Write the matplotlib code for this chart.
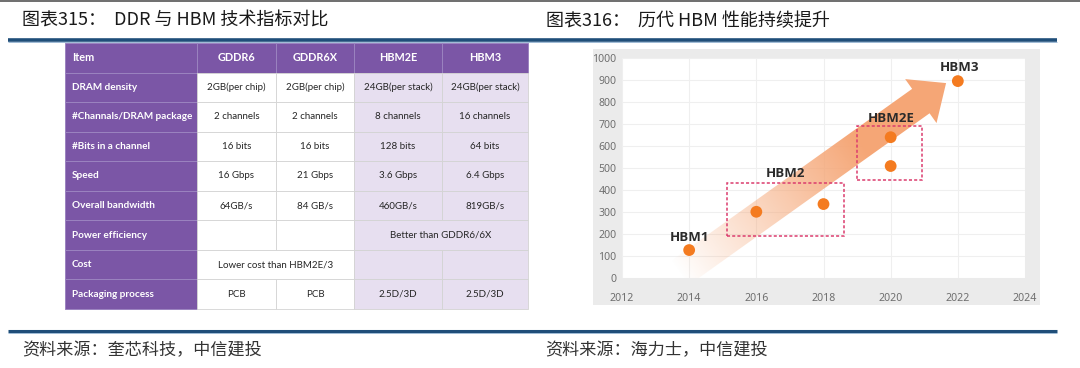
import numpy as np
import matplotlib
matplotlib.use("Agg")
import matplotlib.pyplot as plt
from matplotlib.patches import Rectangle, Polygon

plt.rcParams['font.family'] = ['Noto Sans CJK SC', 'DejaVu Sans']

# ---------------- data ----------------
left_title = "图表315：  DDR 与 HBM 技术指标对比"
right_title = "图表316：  历代 HBM 性能持续提升"
left_source = "资料来源：奎芯科技，中信建投"
right_source = "资料来源：海力士，中信建投"

table_columns = ["Item", "GDDR6", "GDDR6X", "HBM2E", "HBM3"]
row_labels = ["DRAM density", "#Channals/DRAM package", "#Bits in a channel", "Speed",
              "Overall bandwidth", "Power efficiency", "Cost", "Packaging process"]
gddr6 = ["2GB(per chip)", "2 channels", "16 bits", "16 Gbps", "64GB/s", "", "Lower cost than HBM2E/3", "PCB"]
gddr6x = ["2GB(per chip)", "2 channels", "16 bits", "21 Gbps", "84 GB/s", "", None, "PCB"]
hbm2e = ["24GB(per stack)", "8 channels", "128 bits", "3.6 Gbps", "460GB/s", "Better than GDDR6/6X", "", "2.5D/3D"]
hbm3 = ["24GB(per stack)", "16 channels", "64 bits", "6.4 Gbps", "819GB/s", None, "", "2.5D/3D"]

hbm_labels = ["HBM1", "HBM2", "", "HBM2E", "", "HBM3"]
hbm_years = [2014, 2016, 2018, 2020, 2020, 2022]
hbm_bandwidth = [127, 301, 336, 509, 640, 895]
label_pos = {"HBM1": (2014.0, 185), "HBM2": (2016.88, 473), "HBM2E": (2020.03, 726), "HBM3": (2022.04, 958)}
boxes = [(2015.13, 191, 2018.61, 432), (2019.0, 445, 2020.93, 691)]
x_ticks = [2012, 2014, 2016, 2018, 2020, 2022, 2024]
y_ticks = list(range(0, 1001, 100))

# ---------------- figure ----------------
W, H = 1080, 368
fig = plt.figure(figsize=(W / 100, H / 100), dpi=100)
bg = fig.add_axes([0, 0, 1, 1])
bg.set_xlim(0, W)
bg.set_ylim(H, 0)
bg.axis('off')

# top border line
bg.plot([0, W], [0.8, 0.8], color='#555555', lw=1.2)
# titles
bg.text(22, 21, left_title, fontsize=13, color='#1a1a1a', va='center', ha='left')
bg.text(546, 21, right_title, fontsize=13, color='#1a1a1a', va='center', ha='left')
# blue rule under titles
bg.plot([8, 1057], [40, 40], color='#1F4E79', lw=2.6, solid_capstyle='butt')
bg.plot([8, 1057], [41.8, 41.8], color='#8FB0CF', lw=0.6, solid_capstyle='butt')
# bottom rule
bg.plot([8, 1057], [331, 331], color='#1F4E79', lw=2.2, solid_capstyle='butt')
bg.plot([8, 1057], [332.8, 332.8], color='#8FB0CF', lw=0.6, solid_capstyle='butt')
# sources
bg.text(22, 350, left_source, fontsize=12.3, color='#333333', va='center', ha='left')
bg.text(545, 350, right_source, fontsize=12.3, color='#333333', va='center', ha='left')

# ---------------- table ----------------
purple = '#7B56A6'
lavender = '#E7DFF0'
col_x = [65, 197, 276, 354, 442, 528]
top, bottom = 43, 309
nrows = len(row_labels) + 1
rh = (bottom - top) / nrows
tfont = ['Lato', 'DejaVu Sans']

# header
for c, name in enumerate(table_columns):
    x0, x1 = col_x[c], col_x[c + 1]
    bg.add_patch(Rectangle((x0, top), x1 - x0, rh, facecolor=purple, edgecolor='#9B83C0', lw=0.7))
    if c == 0:
        bg.text(x0 + 7, top + rh / 2, name, color='white', fontsize=7.8, fontweight='bold',
                va='center', ha='left', family=tfont)
    else:
        bg.text((x0 + x1) / 2, top + rh / 2, name, color='white', fontsize=7.8, fontweight='bold',
                va='center', ha='center', family=tfont)

data_cols = [gddr6, gddr6x, hbm2e, hbm3]
for r, lab in enumerate(row_labels):
    y0 = top + (r + 1) * rh
    bg.add_patch(Rectangle((col_x[0], y0), col_x[1] - col_x[0], rh, facecolor=purple,
                           edgecolor='#9B83C0', lw=0.7))
    bg.text(col_x[0] + 7, y0 + rh / 2, lab, color='white', fontsize=7.2, fontweight='bold',
            va='center', ha='left', family=tfont)
    c = 0
    while c < 4:
        val = data_cols[c][r]
        span = 1
        while c + span < 4 and data_cols[c + span][r] is None:
            span += 1
        x0, x1 = col_x[c + 1], col_x[c + 1 + span]
        fc = 'white' if c < 2 else lavender
        bg.add_patch(Rectangle((x0, y0), x1 - x0, rh, facecolor=fc, edgecolor='#D3D3D3', lw=0.6))
        if val:
            bg.text((x0 + x1) / 2, y0 + rh / 2, val, color='#262626', fontsize=7.0,
                    va='center', ha='center', family=tfont)
        c += span

# ---------------- chart ----------------
panel = Rectangle((593, 49), 1040 - 593, 305 - 49, facecolor='#EBEBEB', edgecolor='none')
bg.add_patch(panel)

ax = fig.add_axes([622 / W, (H - 278) / H, 403 / W, 220 / H])
ax.set_facecolor('white')
ax.set_xlim(2012, 2024)
ax.set_ylim(0, 1000)
ax.set_xticks(x_ticks)
ax.set_yticks(y_ticks)
ax.tick_params(length=0, labelsize=7.6, labelcolor='#6E6E6E')
ax.tick_params(axis='x', pad=11)
ax.tick_params(axis='y', pad=4)
for lab in ax.get_xticklabels() + ax.get_yticklabels():
    lab.set_family(['Noto Sans', 'DejaVu Sans'])
for s in ax.spines.values():
    s.set_visible(False)
ax.grid(True, color='#EFEFEF', lw=0.8)
ax.set_axisbelow(True)

# gradient arrow (decoration)
tail = np.array([2013.7, 20.0])
tip = np.array([2021.65, 886.0])
P0 = ax.transData.transform(tail)
P1 = ax.transData.transform(tip)
d = P1 - P0
L = np.hypot(*d)
u = d / L
n = np.array([-u[1], u[0]])
head_len, head_w, shaft_w = 31, 54, 30
base = P1 - u * head_len
pts_px = [P0 + n * shaft_w / 2, base + n * shaft_w / 2, base + n * head_w / 2, P1,
          base - n * head_w / 2, base - n * shaft_w / 2, P0 - n * shaft_w / 2]
pts_data = ax.transData.inverted().transform(np.array(pts_px))
arrow_patch = Polygon(pts_data, closed=True, transform=ax.transData, facecolor='none', edgecolor='none')

gx = np.linspace(2012, 2024, 403)
gy = np.linspace(1000, 0, 220)
GX, GY = np.meshgrid(gx, gy)
disp = ax.transData.transform(np.column_stack([GX.ravel(), GY.ravel()]))
t = ((disp - P0) @ u) / (L - head_len)
alpha = np.clip(t / 0.75, 0, 1)
img = np.zeros((220, 403, 4))
img[..., 0] = 245 / 255
img[..., 1] = 166 / 255
img[..., 2] = 118 / 255
img[..., 3] = alpha.reshape(220, 403)
im = ax.imshow(img, extent=(2012, 2024, 0, 1000), aspect='auto', zorder=1, interpolation='bilinear')
im.set_clip_path(arrow_patch)

for (x0, y0, x1, y1) in boxes:
    ax.add_patch(Rectangle((x0, y0), x1 - x0, y1 - y0, fill=False, edgecolor='#DB3C6E',
                           lw=1.1, linestyle=(0, (2, 1.4)), zorder=3))

ax.scatter(hbm_years, hbm_bandwidth, s=72, color='#F47B20', edgecolors='none', zorder=4)
for name, (lx, ly) in label_pos.items():
    ax.text(lx, ly, name, fontsize=9.5, fontweight='bold', color='#2B2B2B',
            ha='center', va='center', family=['Open Sans', 'DejaVu Sans'], zorder=5)

fig.savefig('out.png', dpi=100)
